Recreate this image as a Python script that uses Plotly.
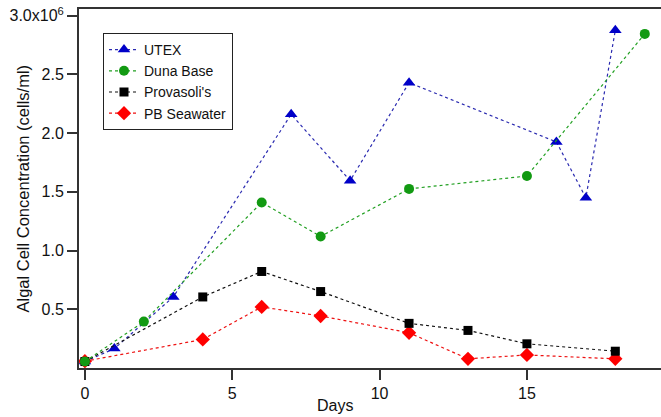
import plotly.graph_objects as go

# Data (days, cells/ml)
utex_days = [0, 1, 3, 7, 9, 11, 16, 17, 18]
utex_vals = [0.055e6, 0.165e6, 0.605e6, 2.16e6, 1.595e6, 2.43e6, 1.925e6, 1.45e6, 2.875e6]

duna_days = [0, 2, 6, 8, 11, 15, 19]
duna_vals = [0.055e6, 0.395e6, 1.41e6, 1.12e6, 1.525e6, 1.635e6, 2.845e6]

prov_days = [0, 4, 6, 8, 11, 13, 15, 18]
prov_vals = [0.055e6, 0.605e6, 0.822e6, 0.651e6, 0.38e6, 0.32e6, 0.206e6, 0.143e6]

pb_days = [0, 4, 6, 8, 11, 13, 15, 18]
pb_vals = [0.058e6, 0.243e6, 0.52e6, 0.443e6, 0.30e6, 0.078e6, 0.111e6, 0.078e6]

y_tickvals = [0.5e6, 1.0e6, 1.5e6, 2.0e6, 2.5e6, 3.0e6]
y_ticktext = ["0.5", "1.0", "1.5", "2.0", "2.5", "3.0x10<sup>6</sup>"]
x_tickvals = [0, 5, 10, 15]

FONT = "Liberation Sans, Arial, sans-serif"

fig = go.Figure()

fig.add_trace(go.Scatter(
    x=utex_days, y=utex_vals, name="UTEX", mode="lines+markers", legendrank=1,
    line=dict(color="#2a2ab0", width=1.2, dash="dot"),
    marker=dict(symbol="triangle-up", size=11, color="#0000c8"),
))
fig.add_trace(go.Scatter(
    x=pb_days, y=pb_vals, name="PB Seawater", mode="lines+markers", legendrank=4,
    line=dict(color="#ee1111", width=1.2, dash="dot"),
    marker=dict(symbol="diamond", size=11, color="#ff0000"),
))
fig.add_trace(go.Scatter(
    x=prov_days, y=prov_vals, name="Provasoli's", mode="lines+markers", legendrank=3,
    line=dict(color="#111111", width=1.2, dash="dot"),
    marker=dict(symbol="square", size=9, color="#000000"),
))
fig.add_trace(go.Scatter(
    x=duna_days, y=duna_vals, name="Duna Base", mode="lines+markers", legendrank=2,
    line=dict(color="#22a022", width=1.2, dash="dot"),
    marker=dict(symbol="circle", size=10, color="#129a12"),
))

fig.update_layout(
    width=661, height=417,
    margin=dict(l=79, r=0, t=9, b=49),
    paper_bgcolor="white", plot_bgcolor="white",
    font=dict(family=FONT, size=16, color="#111111"),
    showlegend=True,
    legend=dict(
        x=(103 - 79) / 582, y=(368 - 33) / 359, xanchor="left", yanchor="top",
        bordercolor="#222222", borderwidth=1, bgcolor="white",
        font=dict(family=FONT, size=14, color="#111111"),
        tracegroupgap=0, itemwidth=30,
    ),
    xaxis=dict(
        range=[-0.2, 19.55], tickvals=x_tickvals, ticks="outside", ticklen=10,
        tickwidth=1.5, tickcolor="#333333", showline=True, linecolor="#333333",
        linewidth=2, mirror=True, showgrid=False, zeroline=False,
        tickfont=dict(size=16),
    ),
    yaxis=dict(
        range=[0, 3.057e6], tickvals=y_tickvals, ticktext=y_ticktext,
        ticks="outside", ticklen=10, tickwidth=1.5, tickcolor="#333333",
        showline=True, linecolor="#333333", linewidth=2, showgrid=False,
        zeroline=False, tickfont=dict(size=16),
    ),
    annotations=[
        dict(text="Days", xref="paper", yref="paper", x=(335 - 79) / 582,
             y=(368 - 405) / 359, xanchor="center", yanchor="middle",
             showarrow=False, font=dict(size=16)),
        dict(text="Algal Cell Concentration (cells/ml)", xref="paper", yref="paper",
             x=(22 - 79) / 582, y=0.5, xanchor="center", yanchor="middle",
             textangle=-90, showarrow=False, font=dict(size=16.5)),
    ],
)

fig.write_html("out.html")
